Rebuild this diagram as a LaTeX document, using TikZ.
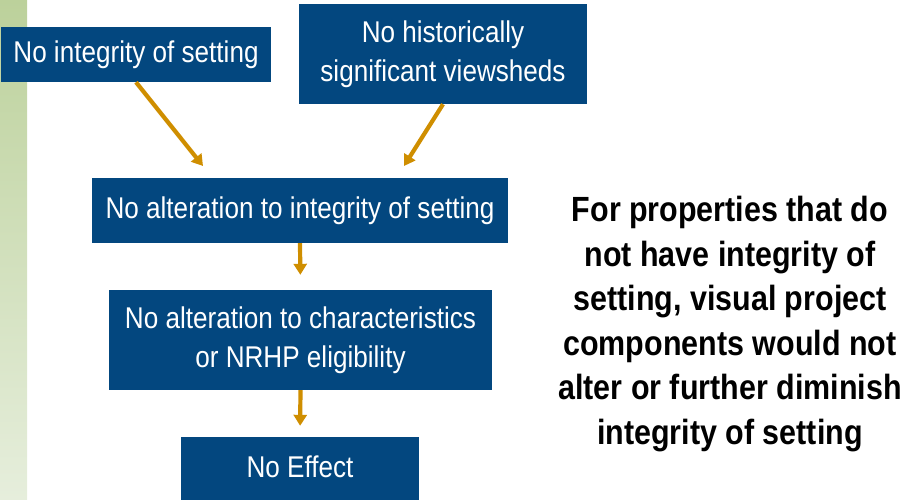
\documentclass[tikz,border=0pt]{standalone}
\usepackage{fontspec}
\setmainfont{Liberation Sans}[FakeStretch=0.87]
\usetikzlibrary{arrows.meta}
\definecolor{boxblue}{HTML}{03477F}
\definecolor{arrowgold}{HTML}{CF8E00}
\definecolor{bargreen}{HTML}{BCD19B}
\definecolor{barpale}{HTML}{E6EEDC}

\begin{document}
\begin{tikzpicture}[x=1pt,y=-1pt,
  stepbox/.style={fill=boxblue,text=white,inner sep=0pt,align=center,
    font=\fontsize{30}{39}\selectfont},
  flow/.style={arrowgold,line width=4.2pt,-{Triangle[length=11pt,width=13pt]}}]
  \useasboundingbox (0,0) rectangle (905,499);
  % side bar
  \shade[top color=bargreen,bottom color=barpale] (0,0) rectangle (27,499);

  % the boxes
  \node[stepbox,minimum width=270pt,minimum height=55pt] (noint) at (136,54.5) {\raisebox{-2pt}{No integrity of setting}};
  \node[stepbox,minimum width=288pt,minimum height=100pt] (noview) at (443,54) {No historically\\significant viewsheds};
  \node[stepbox,minimum width=416pt,minimum height=65pt] (altint) at (300,210.5) {No alteration to integrity of setting};
  \node[stepbox,minimum width=383pt,minimum height=100pt] (altchar) at (300.5,340) {No alteration to characteristics\\or NRHP eligibility};
  \node[stepbox,minimum width=238pt,minimum height=65pt,text height=22pt,text depth=7pt] (noeff) at (300,469.5) {No Effect};

  % arrows
  \coordinate (t1) at (203,166);
  \coordinate (t2) at (404,166);
  \draw[flow] (noint.south) -- (t1);
  \draw[flow] (noview.south) -- (t2);
  \draw[flow,shorten >=15pt] (altint.south) -- (altchar.north);
  \draw[flow,shorten >=11pt] (altchar.south) -- (noeff.north);

  % note on the right
  \node[anchor=north,inner sep=0pt,align=center,font=\fontsize{35}{44.5}\selectfont\bfseries] (note) at (730,196)
    {For properties that do\\not have integrity of\\setting, visual project\\components would not\\alter or further diminish\\integrity of setting};
\end{tikzpicture}
\end{document}
